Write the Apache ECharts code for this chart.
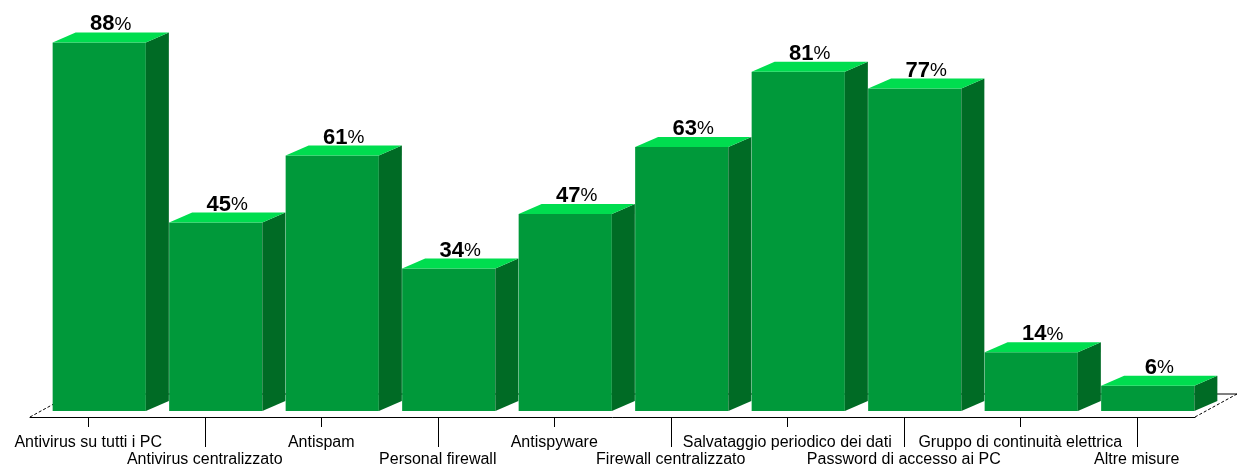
<!DOCTYPE html>
<html>
<head>
<meta charset="utf-8">
<script src="https://cdn.jsdelivr.net/npm/echarts@6/dist/echarts.min.js"></script>
<style>
  html, body { margin: 0; padding: 0; background: #ffffff; }
  #chart { width: 1238px; height: 468px; }
</style>
</head>
<body>
<div id="chart"></div>
<script>
// Misure di sicurezza adottate (% di aziende)
const categories = [
  'Antivirus su tutti i PC',
  'Antivirus centralizzato',
  'Antispam',
  'Personal firewall',
  'Antispyware',
  'Firewall centralizzato',
  'Salvataggio periodico dei dati',
  'Password di accesso ai PC',
  'Gruppo di continuità elettrica',
  'Altre misure'
];
const values = [88, 45, 61, 34, 47, 63, 81, 77, 14, 6];

// 3D look: colours of the three visible faces
const FRONT = '#00993a';
const SIDE = '#006b25';
const TOP = '#00dd4f';

// depth of each block and of the floor it stands on
const BAR_DX = 23, BAR_DY = -10;
const SET_BACK_X = 11, SET_BACK_Y = -6;
const FLOOR_DX = 42, FLOOR_DY = -23;

function renderFloor(params, api) {
  const band = api.size([1, 0])[0];
  const l = api.coord([0, 0]);
  const r = api.coord([categories.length - 1, 0]);
  const xl = l[0] - band / 2, xr = r[0] + band / 2, y = l[1];
  const dashed = { stroke: '#000', lineWidth: 1, lineDash: [3, 2] };
  return {
    type: 'group',
    children: [
      { type: 'line', shape: { x1: xl, y1: y, x2: xl + FLOOR_DX, y2: y + FLOOR_DY }, style: dashed },
      { type: 'line', shape: { x1: xl + FLOOR_DX, y1: y + FLOOR_DY, x2: xr + FLOOR_DX, y2: y + FLOOR_DY }, style: { stroke: '#000', lineWidth: 1 } },
      { type: 'line', shape: { x1: xr, y1: y, x2: xr + FLOOR_DX, y2: y + FLOOR_DY }, style: dashed }
    ]
  };
}

function renderBar(params, api) {
  const i = api.value(0);
  const v = api.value(1);
  const base = api.coord([i, 0]);
  const top = api.coord([i, v]);
  const band = api.size([1, 0])[0];
  const w = band * 0.8;
  const x0 = base[0] - w / 2 + SET_BACK_X;
  const x1 = x0 + w;
  const yb = base[1] + SET_BACK_Y;
  const yt = top[1] + SET_BACK_Y;
  return {
    type: 'group',
    children: [
      { type: 'rect', shape: { x: x0, y: yt, width: w, height: yb - yt }, style: { fill: FRONT } },
      { type: 'polygon', shape: { points: [[x1, yb], [x1, yt], [x1 + BAR_DX, yt + BAR_DY], [x1 + BAR_DX, yb + BAR_DY]] }, style: { fill: SIDE } },
      { type: 'polygon', shape: { points: [[x0, yt], [x1, yt], [x1 + BAR_DX, yt + BAR_DY], [x0 + BAR_DX, yt + BAR_DY]] }, style: { fill: TOP } },
      {
        type: 'text',
        style: {
          text: '{n|' + v + '}{p|%}',
          x: (x0 + x1 + BAR_DX) / 2,
          y: yt + BAR_DY + 3,
          align: 'center',
          verticalAlign: 'bottom',
          rich: {
            n: { fontFamily: 'Liberation Sans, Arial, sans-serif', fontWeight: 'bold', fontSize: 22, lineHeight: 22, fill: '#000' },
            p: { fontFamily: 'Liberation Sans, Arial, sans-serif', fontWeight: 'normal', fontSize: 19, lineHeight: 22, fill: '#000' }
          }
        }
      }
    ]
  };
}

const labelFont = { fontFamily: 'Liberation Sans, Arial, sans-serif', fontSize: 16, color: '#000' };
const even = (i) => i % 2 === 0;
const odd = (i) => i % 2 === 1;

const chart = echarts.init(document.getElementById('chart'), null, { renderer: 'canvas' });
chart.setOption({
  animation: false,
  backgroundColor: '#ffffff',
  grid: { left: 30, right: 43, top: 40, bottom: 50 },
  xAxis: [
    {
      type: 'category', data: categories, position: 'bottom', offset: 0,
      axisLine: { show: true, lineStyle: { color: '#000', width: 1 } },
      axisTick: { show: true, alignWithLabel: true, length: 10, interval: even, lineStyle: { color: '#000' } },
      axisLabel: Object.assign({ interval: even, margin: 18 }, labelFont),
      splitLine: { show: false }
    },
    {
      type: 'category', data: categories, position: 'bottom', offset: 0,
      axisLine: { show: false },
      axisTick: { show: true, alignWithLabel: true, length: 30, interval: odd, lineStyle: { color: '#000' } },
      axisLabel: Object.assign({ interval: odd, margin: 35 }, labelFont),
      splitLine: { show: false }
    }
  ],
  yAxis: { type: 'value', min: 0, max: 90, show: false, splitLine: { show: false } },
  series: [
    { type: 'custom', name: 'floor', xAxisIndex: 0, renderItem: renderFloor, data: [[0, 0]], z: 1, silent: true },
    {
      type: 'custom', name: 'Misure adottate', xAxisIndex: 0, renderItem: renderBar, z: 2,
      data: values.map((v, i) => [i, v])
    }
  ]
});
</script>
</body>
</html>
